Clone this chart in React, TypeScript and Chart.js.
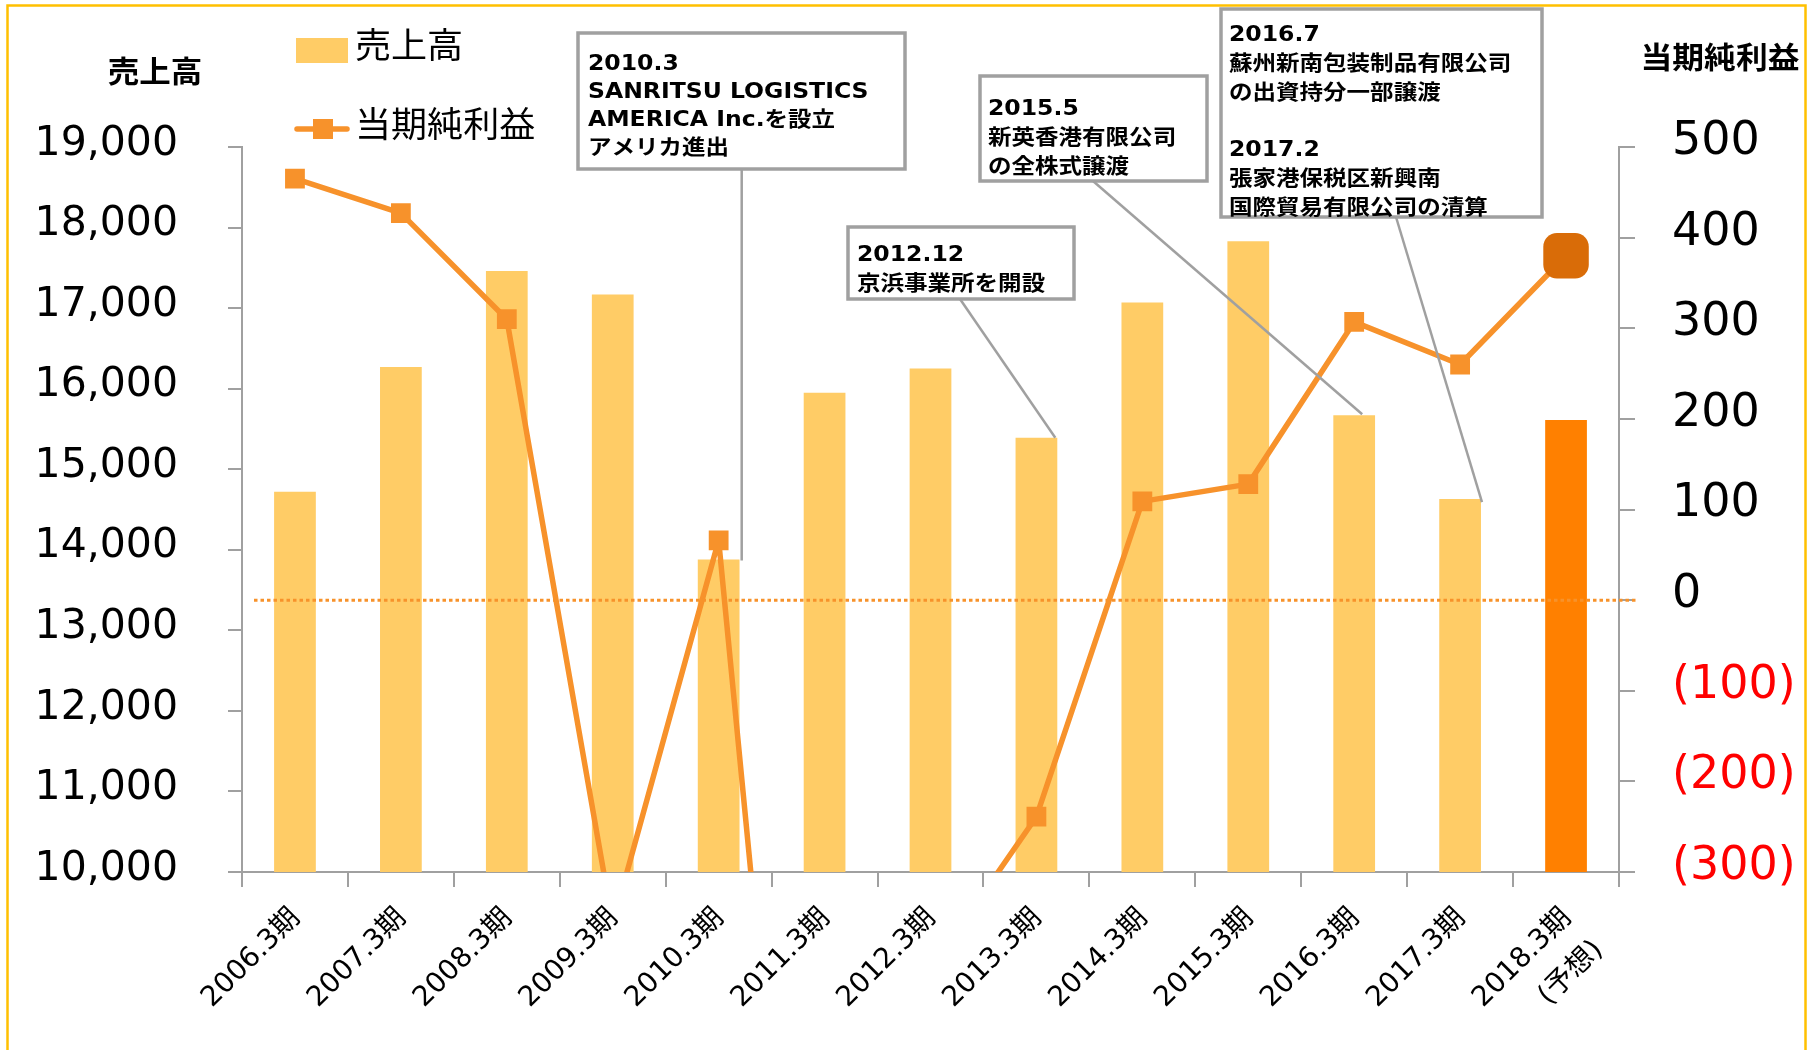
import React, { useEffect, useRef } from 'react';
import { Chart, registerables } from 'chart.js';

Chart.register(...registerables);

// ---------- data ----------
const categories: (string | string[])[] = [
  '2006.3期', '2007.3期', '2008.3期', '2009.3期', '2010.3期', '2011.3期', '2012.3期',
  '2013.3期', '2014.3期', '2015.3期', '2016.3期', '2017.3期', ['2018.3期', '(予想)'],
];
const salesValues = [14720, 16270, 17460, 17170, 13880, 15950, 16250, 15390, 17070, 17830, 15670, 14630, 15610];
const netIncomeValues = [465, 427, 310, -357, 66, -1140, -408, -239, 109, 128, 307, 260, 380];
const salesTickRange = [10000, 19000, 1000];
const incomeTickRange = [-300, 500, 100];
const salesLabel = '売上高';
const incomeLabel = '当期純利益';
const eventTexts: string[][] = [
  ['2010.3', 'SANRITSU LOGISTICS', 'AMERICA Inc.を設立', 'アメリカ進出'],
  ['2012.12', '京浜事業所を開設'],
  ['2015.5', '新英香港有限公司', 'の全株式譲渡'],
  ['2016.7', '蘇州新南包装制品有限公司', 'の出資持分一部譲渡', '', '2017.2', '張家港保税区新興南', '国際貿易有限公司の清算'],
];
const eventBarIndex = [4, 7, 10, 11];

// ---------- styles / layout ----------
const BAR = '#FFCC66';
const BAR_LAST = '#FF8000';
const LINE = '#F7922B';
const MARK_LAST = '#D96C08';
const GRAY = '#A0A0A0';
const FONT = "'DejaVu Sans', 'Noto Sans CJK JP', sans-serif";
const CJK = "'Noto Sans CJK JP', 'DejaVu Sans', sans-serif";

const boxLayout = [
  { x: 578, y: 33, w: 327, h: 136, tx: 588, ty: 65, lh: 28, fx: 741.7, fy: 169, vertical: true, center: false, dx: 2, dy: 1 },
  { x: 848, y: 227, w: 226, h: 72, tx: 857, ty: 255.5, lh: 29, fx: 960, fy: 299, vertical: false, center: false, dx: -2, dy: 0 },
  { x: 980, y: 76, w: 227, h: 105, tx: 988, ty: 109.5, lh: 29, fx: 1093, fy: 181, vertical: false, center: true, dx: 8, dy: -1 },
  { x: 1221, y: 9, w: 321, h: 208, tx: 1229, ty: 35.5, lh: 28.8, fx: 1396, fy: 217, vertical: false, center: false, dx: 1, dy: 3 },
];

function drawText(ctx: CanvasRenderingContext2D, s: string, x: number, y: number, font: string, sx: number, align: CanvasTextAlign = 'left', color = '#000') {
  ctx.save();
  ctx.font = font;
  ctx.fillStyle = color;
  ctx.textBaseline = 'middle';
  ctx.textAlign = align;
  ctx.translate(x, y);
  ctx.scale(sx, 1);
  ctx.fillText(s, 0, 0);
  ctx.restore();
}

const decorPlugin = {
  id: 'decor',
  beforeDraw(chart: any) {
    const ctx = chart.ctx as CanvasRenderingContext2D;
    ctx.save();
    ctx.fillStyle = '#fff';
    ctx.fillRect(0, 0, chart.width, chart.height);
    ctx.strokeStyle = '#FFC000';
    ctx.lineWidth = 2.5;
    ctx.strokeRect(7.5, 5.5, 1798, 1100);
    ctx.restore();
  },
  afterDatasetsDraw(chart: any) {
    const ctx = chart.ctx as CanvasRenderingContext2D;
    const y0 = chart.scales.y1.getPixelForValue(0);
    ctx.save();
    ctx.strokeStyle = LINE;
    ctx.lineWidth = 3;
    ctx.setLineDash([3.5, 3]);
    ctx.beginPath();
    ctx.moveTo(254, y0);
    ctx.lineTo(1636, y0);
    ctx.stroke();
    ctx.restore();
  },
  afterDraw(chart: any) {
    const ctx = chart.ctx as CanvasRenderingContext2D;
    const bars = chart.getDatasetMeta(0).data;
    // connectors
    ctx.save();
    ctx.strokeStyle = GRAY;
    ctx.lineWidth = 2.5;
    boxLayout.forEach((b, i) => {
      const bar = bars[eventBarIndex[i]];
      const tx = (b.center ? bar.x : bar.x + bar.width / 2) + b.dx;
      const ty = bar.y + b.dy;
      ctx.beginPath();
      ctx.moveTo(b.fx, b.fy);
      ctx.lineTo(b.vertical ? b.fx : tx, ty);
      ctx.stroke();
    });
    ctx.restore();
    // boxes
    boxLayout.forEach((b, i) => {
      ctx.save();
      ctx.fillStyle = '#fff';
      ctx.fillRect(b.x, b.y, b.w, b.h);
      ctx.strokeStyle = GRAY;
      ctx.lineWidth = 3.5;
      ctx.strokeRect(b.x, b.y, b.w, b.h);
      ctx.restore();
      eventTexts[i].forEach((line, k) => {
        if (line) drawText(ctx, line, b.tx, b.ty + k * b.lh, `bold 21px ${FONT}`, 1.12);
      });
    });
    // axis titles
    drawText(ctx, salesLabel, 155, 71, `bold 30px ${CJK}`, 1.05, 'center');
    drawText(ctx, incomeLabel, 1720, 57, `bold 30px ${CJK}`, 1.06, 'center');
    // legend
    ctx.save();
    ctx.fillStyle = BAR;
    ctx.fillRect(296, 38, 52, 25);
    ctx.strokeStyle = LINE;
    ctx.lineWidth = 5.5;
    ctx.lineCap = 'round';
    ctx.beginPath();
    ctx.moveTo(297, 129);
    ctx.lineTo(347, 129);
    ctx.stroke();
    ctx.fillStyle = LINE;
    ctx.fillRect(313, 119, 20, 20);
    ctx.restore();
    drawText(ctx, salesLabel, 355, 45, `35px ${CJK}`, 1.03);
    drawText(ctx, incomeLabel, 355, 124, `35px ${CJK}`, 1.03);
  },
};

export default function App() {
  const ref = useRef<HTMLCanvasElement>(null);
  useEffect(() => {
    const n = categories.length;
    const chart = new Chart(ref.current as HTMLCanvasElement, {
      type: 'bar',
      data: {
        labels: categories as any,
        datasets: [
          {
            type: 'bar',
            label: salesLabel,
            data: salesValues,
            yAxisID: 'y',
            backgroundColor: salesValues.map((_, i) => (i === n - 1 ? BAR_LAST : BAR)),
            barPercentage: 0.394,
            categoryPercentage: 1,
            order: 2,
          },
          {
            type: 'line',
            label: incomeLabel,
            data: netIncomeValues,
            yAxisID: 'y1',
            borderColor: LINE,
            borderWidth: 5.5,
            borderJoinStyle: 'round',
            tension: 0,
            pointStyle: netIncomeValues.map((_, i) => (i === n - 1 ? 'rectRounded' : 'rect')) as any,
            pointRadius: netIncomeValues.map((_, i) => (i === n - 1 ? 26.5 : 14)),
            pointBackgroundColor: netIncomeValues.map((_, i) => (i === n - 1 ? MARK_LAST : LINE)),
            pointBorderWidth: 0,
            order: 1,
          } as any,
        ],
      },
      options: {
        responsive: false,
        devicePixelRatio: 1,
        animation: false,
        layout: { padding: { top: 147, left: 0, right: 0, bottom: 0 } },
        plugins: { legend: { display: false }, tooltip: { enabled: false } },
        scales: {
          x: {
            offset: true,
            grid: { display: true, drawOnChartArea: false, drawTicks: true, tickLength: 15, color: GRAY, lineWidth: 2, offset: true },
            border: { color: GRAY, width: 2 },
            ticks: {
              autoSkip: false,
              maxRotation: 45,
              minRotation: 45,
              padding: 11,
              labelOffset: 1,
              color: '#000',
              font: { family: FONT, size: 28, lineHeight: 1.6 },
            },
            afterFit: (s: any) => { s.height = 178; },
          },
          y: {
            position: 'left',
            min: salesTickRange[0],
            max: salesTickRange[1],
            grid: { display: true, drawOnChartArea: false, tickLength: 14, color: GRAY, lineWidth: 2 },
            border: { color: GRAY, width: 2 },
            ticks: {
              stepSize: salesTickRange[2],
              padding: 50,
              labelOffset: -3,
              color: '#000',
              font: { family: FONT, size: 41 },
              callback: (v: any) => Number(v).toLocaleString('en-US'),
            },
            afterFit: (s: any) => { s.width = 242; },
          },
          y1: {
            position: 'right',
            min: incomeTickRange[0],
            max: incomeTickRange[1],
            grid: { display: true, drawOnChartArea: false, tickLength: 16, color: GRAY, lineWidth: 2 },
            border: { color: GRAY, width: 2 },
            ticks: {
              stepSize: incomeTickRange[2],
              padding: 37,
              labelOffset: -5,
              color: (c: any) => (c.tick && c.tick.value < 0 ? '#FF0000' : '#000000'),
              font: { family: FONT, size: 46 },
              callback: (v: any) => (Number(v) < 0 ? `(${-Number(v)})` : `${v}`),
            },
            afterFit: (s: any) => { s.width = 195; },
          },
        },
      },
      plugins: [decorPlugin],
    });
    return () => chart.destroy();
  }, []);
  return (
    <div style={{ position: 'fixed', left: 0, top: 0, width: 1814, height: 1050, background: '#fff' }}>
      <canvas ref={ref} width={1814} height={1050} style={{ width: '1814px', height: '1050px', display: 'block' }} />
    </div>
  );
}
